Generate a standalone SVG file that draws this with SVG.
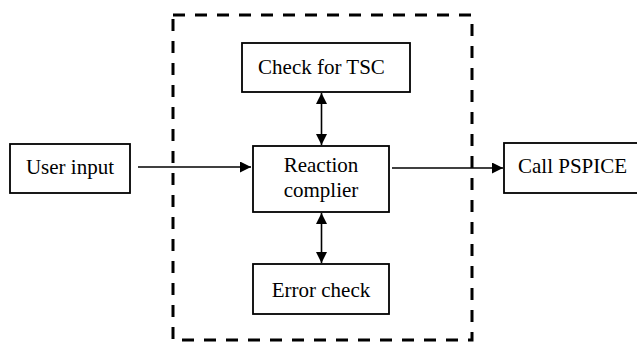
<svg xmlns="http://www.w3.org/2000/svg" width="637" height="342" viewBox="0 0 637 342">
<defs>
<marker id="ah" viewBox="0 0 10 10" refX="10" refY="5" markerWidth="11" markerHeight="11" markerUnits="userSpaceOnUse" orient="auto-start-reverse">
<path d="M0,0 L10,5 L0,10 z" fill="#000"/>
</marker>
</defs>
<style>
.box{fill:#fff;stroke:#000;stroke-width:1.8}
.lbl{font-family:"Liberation Serif","Times New Roman",serif;font-size:21px;fill:#000;text-anchor:middle}
.ln{stroke:#000;stroke-width:1.6;fill:none}
.dash{fill:none;stroke:#000;stroke-width:3;stroke-dasharray:12 10}
</style>
<rect width="637" height="342" fill="#fff"/>
<rect class="dash" x="173" y="15" width="299" height="325"/>
<g id="connectors">
<line class="ln" x1="138" y1="167" x2="251" y2="167" marker-end="url(#ah)"/>
<line class="ln" x1="392" y1="168" x2="503" y2="168" marker-end="url(#ah)"/>
<line class="ln" x1="321.5" y1="93" x2="321.5" y2="145" marker-start="url(#ah)" marker-end="url(#ah)"/>
<line class="ln" x1="321.5" y1="213" x2="321.5" y2="263" marker-start="url(#ah)" marker-end="url(#ah)"/>
</g>
<g id="user-input">
<rect class="box" x="10" y="144" width="120" height="49"/>
<text class="lbl" x="70" y="174">User input</text>
</g>
<g id="check-tsc">
<rect class="box" x="242" y="43" width="168" height="49"/>
<text class="lbl" x="321.5" y="74">Check for TSC</text>
</g>
<g id="reaction-complier">
<rect class="box" x="253" y="146" width="136" height="66"/>
<text class="lbl" x="321" y="172">Reaction</text>
<text class="lbl" x="321" y="197">complier</text>
</g>
<g id="error-check">
<rect class="box" x="253" y="264" width="136" height="50"/>
<text class="lbl" x="321" y="297">Error check</text>
</g>
<g id="call-pspice">
<rect class="box" x="504" y="143" width="140" height="50"/>
<text class="lbl" x="518" y="173" style="text-anchor:start">Call PSPICE</text>
</g>
</svg>
